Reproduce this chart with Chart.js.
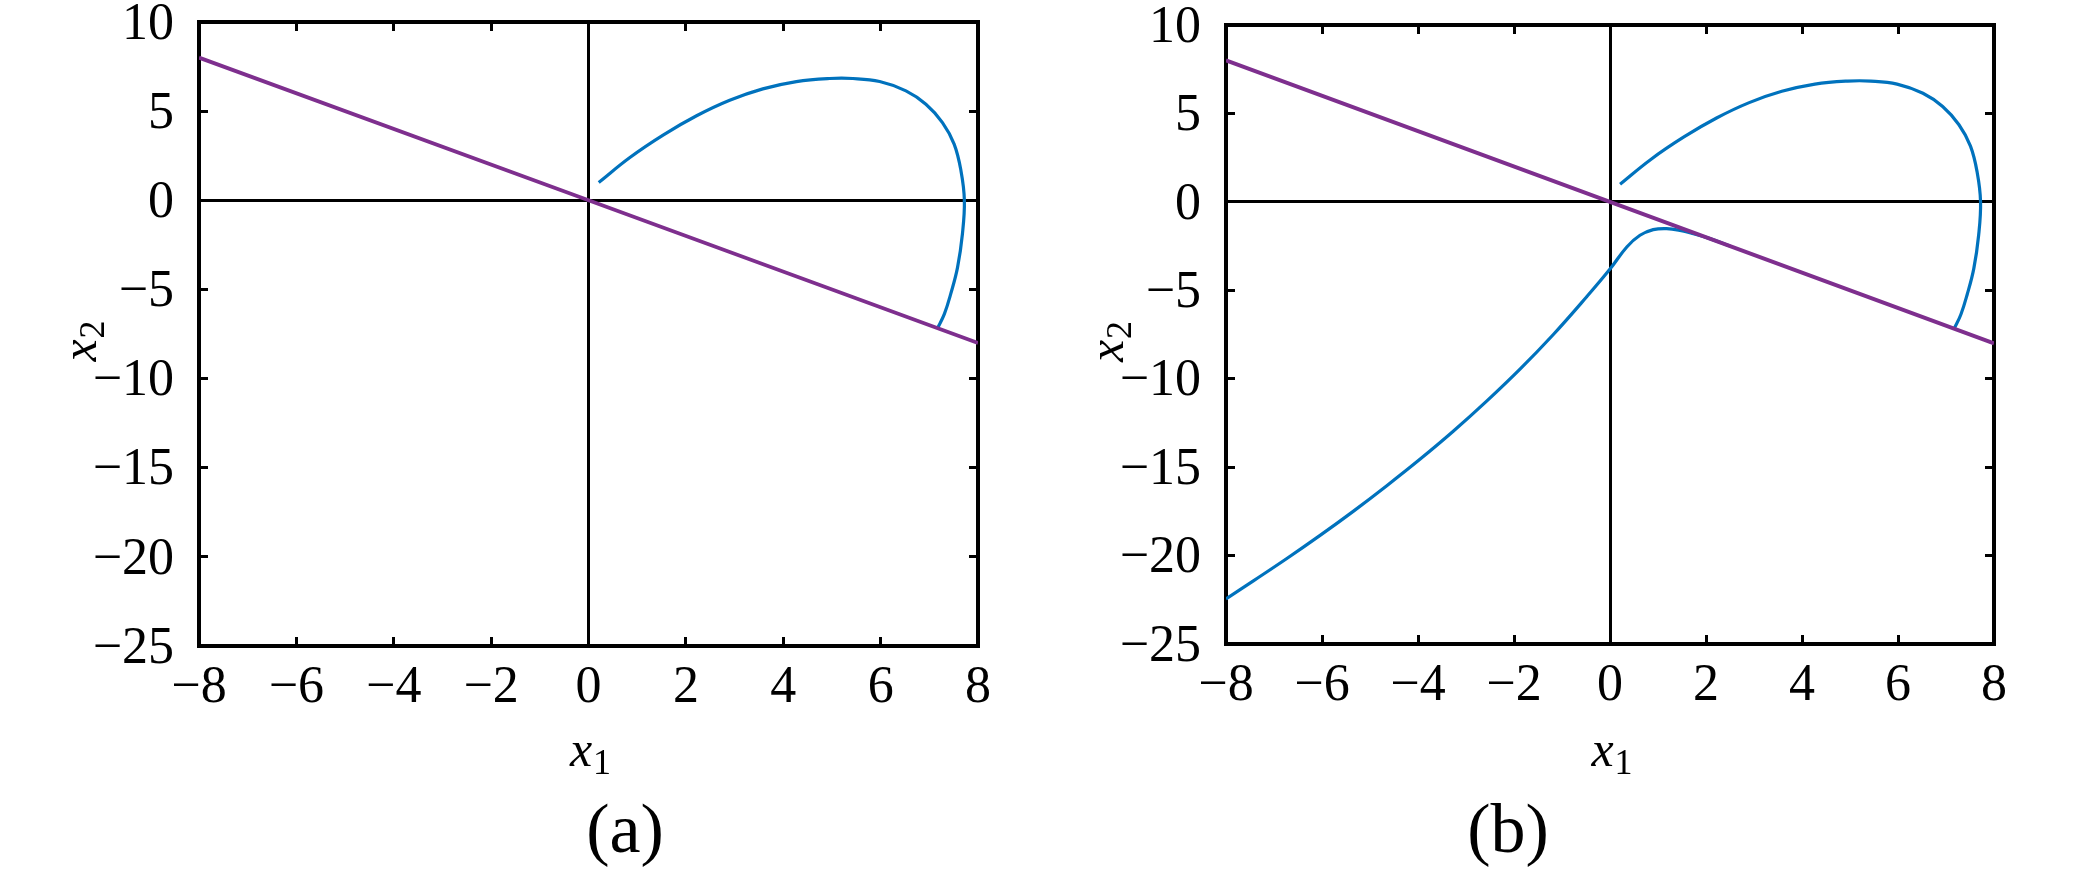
<!DOCTYPE html>
<html>
<head>
<meta charset="utf-8">
<script src="https://cdn.jsdelivr.net/npm/chart.js@4.4.1/dist/chart.umd.min.js"></script>
<style>
  html, body { margin: 0; padding: 0; background: #fff; }
  body { width: 2079px; height: 871px; position: relative; overflow: hidden;
         font-family: 'Liberation Serif', 'Times New Roman', serif; }
  .panel { position: absolute; top: 0; height: 871px; }
  #wrapA { left: 0; width: 1040px; }
  #wrapB { left: 1040px; width: 1039px; }
  .caption { position: absolute; top: 794px; width: 200px; text-align: center;
             font-size: 70px; line-height: 70px; color: #000; }
</style>
</head>
<body>
<div class="panel" id="wrapA"><canvas id="chartA"></canvas></div>
<div class="panel" id="wrapB"><canvas id="chartB"></canvas></div>
<div class="caption" style="left:525px">(a)</div>
<div class="caption" style="left:1408px">(b)</div>
<script>
// tick values
const X_TICKS = [-8, -6, -4, -2, 0, 2, 4, 6, 8];
const Y_TICKS = [-25, -20, -15, -10, -5, 0, 5, 10];

// axis titles: [main, subscript]
const X_TITLE = ['x', '1'];
const Y_TITLE = ['x', '2'];

// sliding surface s = x1 + x2 = 0
const SURFACE_X = [-8, 8];
const SURFACE_Y = [8, -8];

// trajectory starting near (0.2, 1)
const TRAJ1_X = [0.21, 0.85, 1.54, 2.22, 2.90, 3.58, 4.27, 4.95, 5.43, 5.98, 6.52,
                 6.93, 7.27, 7.51, 7.65, 7.72, 7.68, 7.58, 7.44, 7.31, 7.17];
const TRAJ1_Y = [1.00, 2.40, 3.67, 4.74, 5.61, 6.25, 6.66, 6.83, 6.83, 6.66, 6.14,
                 5.39, 4.36, 3.15, 1.66, 0.00, -1.89, -3.76, -5.25, -6.37, -7.17];

// trajectory from (-8, -22.5), only in panel (b)
const TRAJ2_X = [-8.0, -7.43, -6.74, -6.04, -5.35, -4.65, -3.96, -3.26, -2.57, -1.875,
                 -1.18, -0.49, 0.0, 0.35, 0.625, 0.90, 1.18, 1.46, 1.74, 2.05, 2.5];
const TRAJ2_Y = [-22.45, -21.43, -20.18, -18.86, -17.50, -16.05, -14.56, -12.96, -11.27, -9.46,
                 -7.50, -5.38, -3.80, -2.55, -1.89, -1.57, -1.51, -1.61, -1.80, -2.05, -2.5];

const FONT = "'Liberation Serif', 'Times New Roman', serif";
const BLUE = '#0072BD';
const PURPLE = '#7E2F8E';

function toPoints(xs, ys) {
  return xs.map((x, i) => ({ x: x, y: ys[i] }));
}

function lineSet(xs, ys, color, width) {
  return {
    data: toPoints(xs, ys),
    showLine: true,
    borderColor: color,
    borderWidth: width,
    pointRadius: 0,
    tension: 0.4,
    fill: false
  };
}

const tickFmt = v => String(v).replace('-', '\u2212');

// fixed strip size, and no extra room for overhanging labels
function fixSize(prop, size) {
  return s => {
    s[prop] = size;
    s.paddingTop = s.paddingBottom = s.paddingLeft = s.paddingRight = 0;
  };
}

// box = sizes of the four axis strips around the plot area
function frameScales(box) {
  const font = { family: FONT, size: 52 };
  const zeroOnly = c => (c.tick && c.tick.value === 0) ? '#000' : 'rgba(0,0,0,0)';
  const border = { color: '#000', width: 4 };
  const marks = { tickLength: -9, tickWidth: 3, tickColor: '#000', lineWidth: 3 };
  return {
    x: {
      type: 'linear', position: 'bottom', min: -8, max: 8,
      afterBuildTicks: s => { s.ticks = X_TICKS.map(v => ({ value: v })); },
      afterFit: fixSize('height', box.bottom),
      ticks: { font: font, color: '#000', padding: 20, callback: tickFmt, autoSkip: false, maxRotation: 0 },
      grid: Object.assign({ color: zeroOnly }, marks),
      border: border
    },
    xTop: {
      type: 'linear', position: 'top', min: -8, max: 8,
      afterBuildTicks: s => { s.ticks = X_TICKS.map(v => ({ value: v })); },
      afterFit: fixSize('height', box.top),
      ticks: { display: false },
      grid: Object.assign({}, marks, { color: 'rgba(0,0,0,0)' }),
      border: border
    },
    y: {
      type: 'linear', position: 'left', min: -25, max: 10,
      afterBuildTicks: s => { s.ticks = Y_TICKS.map(v => ({ value: v })); },
      afterFit: fixSize('width', box.left),
      ticks: { font: font, color: '#000', padding: 34, labelOffset: 3, callback: tickFmt, autoSkip: false },
      grid: Object.assign({ color: zeroOnly }, marks),
      border: border
    },
    yRight: {
      type: 'linear', position: 'right', min: -25, max: 10,
      afterBuildTicks: s => { s.ticks = Y_TICKS.map(v => ({ value: v })); },
      afterFit: fixSize('width', box.right),
      ticks: { display: false },
      grid: Object.assign({}, marks, { color: 'rgba(0,0,0,0)' }),
      border: border
    }
  };
}

function drawSub(ctx, parts, cx, base) {
  ctx.font = 'italic 50px ' + FONT;
  const wm = ctx.measureText(parts[0]).width;
  ctx.font = '36px ' + FONT;
  const ws = ctx.measureText(parts[1]).width;
  const x0 = cx - (wm + ws + 1) / 2;
  ctx.font = 'italic 50px ' + FONT;
  ctx.fillText(parts[0], x0, base);
  ctx.font = '36px ' + FONT;
  ctx.fillText(parts[1], x0 + wm + 1, base + 8);
}

// x1 / x2 titles with a real subscript
const axisTitles = {
  id: 'axisTitles',
  afterDraw(chart, args, opts) {
    const ctx = chart.ctx;
    const a = chart.chartArea;
    ctx.save();
    ctx.fillStyle = '#000';
    ctx.textAlign = 'left';
    ctx.textBaseline = 'alphabetic';
    drawSub(ctx, X_TITLE, (a.left + a.right) / 2 + 2, opts.xBase);
    ctx.translate(opts.yBase, (a.top + a.bottom) / 2 + 7);
    ctx.rotate(-Math.PI / 2);
    drawSub(ctx, Y_TITLE, 0, 0);
    ctx.restore();
  }
};

function makePanel(id, datasets, box, titles) {
  return new Chart(document.getElementById(id), {
    type: 'scatter',
    data: { datasets: datasets },
    plugins: [axisTitles],
    options: {
      responsive: true,
      maintainAspectRatio: false,
      animation: false,
      layout: { padding: 0 },
      plugins: {
        legend: { display: false },
        tooltip: { enabled: false },
        axisTitles: titles
      },
      scales: frameScales(box)
    }
  });
}

// purple first so it sits on top of the blue curves
makePanel('chartA', [
  lineSet(SURFACE_X, SURFACE_Y, PURPLE, 3.8),
  lineSet(TRAJ1_X, TRAJ1_Y, BLUE, 3.2)
], { left: 199, right: 1040 - 978, top: 22, bottom: 871 - 646 }, { xBase: 766, yBase: 96 });

makePanel('chartB', [
  lineSet(SURFACE_X, SURFACE_Y, PURPLE, 3.8),
  lineSet(TRAJ1_X, TRAJ1_Y, BLUE, 3.2),
  lineSet(TRAJ2_X, TRAJ2_Y, BLUE, 3.2)
], { left: 1226 - 1040, right: 2079 - 1994, top: 25, bottom: 871 - 644 }, { xBase: 766, yBase: 1123 - 1040 });
</script>
</body>
</html>
